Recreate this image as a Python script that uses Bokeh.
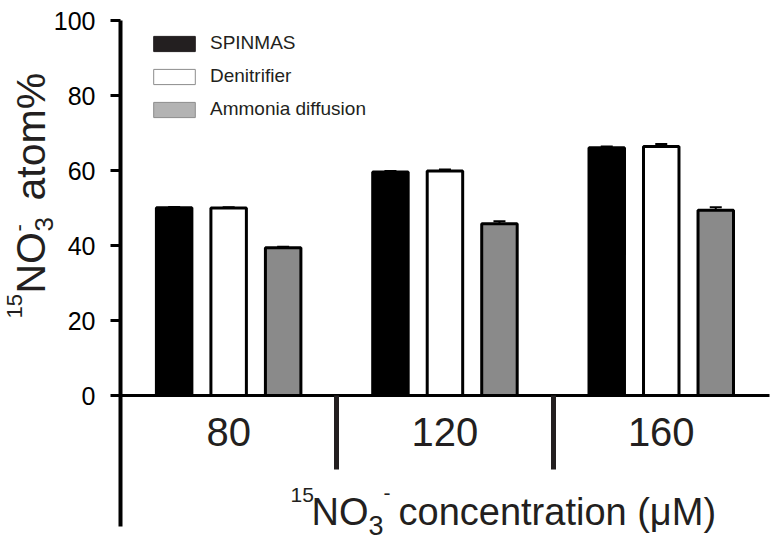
import math
from bokeh.plotting import figure
from bokeh.models import (ColumnDataSource, Range1d, LinearAxis, FixedTicker,
                          Label, Legend, LegendItem, Whisker, TeeHead)
from bokeh.transform import dodge
from bokeh.embed import file_html
from bokeh.resources import INLINE

# ---------------- data ----------------
categories = ["80", "120", "160"]
series_names = ["SPINMAS", "Denitrifier", "Ammonia diffusion"]
spinmas = [50.1, 59.6, 66.1]
spinmas_err = [0.2, 0.3, 0.3]
denitrifier = [50.0, 59.9, 66.4]
denitrifier_err = [0.2, 0.4, 0.7]
ammonia = [39.4, 45.8, 49.4]
ammonia_err = [0.3, 0.7, 0.8]
y_ticks = [0, 20, 40, 60, 80, 100]

FONT = "Liberation Sans"
INK = "#231f20"
W, H = 770, 542
PX_X = 216.3      # pixels per category group
PX_Y = 3.75       # pixels per y unit
X_AX = 120        # pixel position of the y axis
Y_AX = 395        # pixel position of y = 0
BASE_K = 0.3465   # label anchor sits this many em above the text baseline

def sx(X):
    return (X - X_AX) / PX_X - 0.5

def sy(Y):
    return (Y_AX - Y) / PX_Y

pos = list(range(len(categories)))

p = figure(width=W, height=H,
           x_range=Range1d(sx(0), sx(W)), y_range=Range1d(sy(H), sy(0)),
           output_backend="svg", toolbar_location=None,
           x_axis_location=None, y_axis_location=None,
           min_border=0, min_border_left=0, min_border_right=0,
           min_border_top=0, min_border_bottom=0,
           outline_line_color=None, background_fill_color="white",
           border_fill_color="white")
p.grid.visible = False

# y axis (fixed inside the frame); its line continues below zero as the left bracket
yax = LinearAxis(fixed_location=-0.5, bounds=(sy(526), 100),
                 ticker=FixedTicker(ticks=y_ticks),
                 major_tick_out=10, major_tick_in=0,
                 minor_tick_out=0, minor_tick_in=0,
                 axis_line_width=4, axis_line_color="black",
                 major_tick_line_width=3, major_tick_line_color="black",
                 major_label_text_font=FONT, major_label_text_font_size="25px",
                 major_label_text_color="black", major_label_standoff=15)
p.add_layout(yax, "left")

# x baseline with group separators
seps = [i + 0.5 for i in pos[:-1]]
xsep = LinearAxis(fixed_location=0, bounds=(-0.5, len(categories) - 0.5),
                  ticker=FixedTicker(ticks=seps),
                  major_tick_out=74, major_tick_in=0,
                  minor_tick_out=0, minor_tick_in=0,
                  major_tick_line_width=5, major_tick_line_color=INK,
                  axis_line_width=3, axis_line_color="black",
                  major_label_text_color=None)
p.add_layout(xsep, "below")

# category labels
xlab = LinearAxis(fixed_location=0, ticker=FixedTicker(ticks=pos),
                  major_label_overrides={i: c for i, c in zip(pos, categories)},
                  major_tick_out=0, major_tick_in=0, minor_tick_out=0, minor_tick_in=0,
                  major_tick_line_color=None, axis_line_color=None,
                  major_label_text_font=FONT, major_label_text_font_size="40px",
                  major_label_text_color=INK, major_label_standoff=22)
p.add_layout(xlab, "below")

src = ColumnDataSource(dict(
    pos=pos,
    spinmas=spinmas, spinmas_up=[v + e for v, e in zip(spinmas, spinmas_err)],
    denit=denitrifier, denit_up=[v + e for v, e in zip(denitrifier, denitrifier_err)],
    amm=ammonia, amm_up=[v + e for v, e in zip(ammonia, ammonia_err)],
))

OFF = 0.252
BW = 0.164
styles = [("spinmas", -OFF, "black"), ("denit", 0.0, "white"), ("amm", OFF, "#8a8a8a")]
for col, off, fill in styles:
    p.vbar(x=dodge("pos", off), top=col, bottom=0, width=BW,
           fill_color=fill, line_color="black", line_width=3, source=src)
    p.add_layout(Whisker(source=src, base=dodge("pos", off),
                         upper=col + "_up", lower=col, lower_head=None,
                         upper_head=TeeHead(size=12, line_width=2, line_color="black"),
                         line_width=2, line_color="black"))

# y axis title pieces (rotated): text, size, baseline X, start Y
y_title = [("15", 22, 22, 318), ("NO", 41, 45, 293), ("3", 26, 53, 231),
           ("-", 22, 26, 231), ("atom%", 41, 45, 200)]
for txt, size, X, Y in y_title:
    p.add_layout(Label(x=sx(X - BASE_K * size), y=sy(Y), text=txt, angle=math.pi / 2,
                       text_font=FONT, text_font_size=f"{size}px", text_color=INK,
                       text_align="left", text_baseline="alphabetic"))

# x axis title pieces: text, size, start X, baseline Y
x_title = [("15", 21, 290, 502), ("NO", 38, 311, 525), ("3", 27, 368, 534),
           ("-", 21, 383, 500), ("concentration (μM)", 38, 398, 525)]
for txt, size, X, Y in x_title:
    p.add_layout(Label(x=sx(X), y=sy(Y - BASE_K * size), text=txt,
                       text_font=FONT, text_font_size=f"{size}px", text_color=INK,
                       text_align="left", text_baseline="alphabetic"))

# legend (swatch style differs from bars; hidden proxy renderers)
leg_styles = [("#231f20", "#231f20"), ("white", "#8c8c8c"), ("#b3b3b3", "#8c8c8c")]
items = []
for (col, off, _), name, (fc, lc) in zip(styles, series_names, leg_styles):
    r = p.vbar(x=dodge("pos", off), top=col, width=BW, source=src,
               fill_color=fc, line_color=lc, line_width=1, visible=False)
    items.append(LegendItem(label=name, renderers=[r]))
legend = Legend(items=items, location=(148, 422), orientation="vertical",
                glyph_width=52, glyph_height=19, label_height=19, label_standoff=10,
                spacing=11, padding=0, margin=0, border_line_color=None,
                background_fill_alpha=0, label_text_font=FONT,
                label_text_font_size="19px", label_text_color=INK)
p.add_layout(legend)

open("out.html", "w").write(file_html(p, INLINE))
